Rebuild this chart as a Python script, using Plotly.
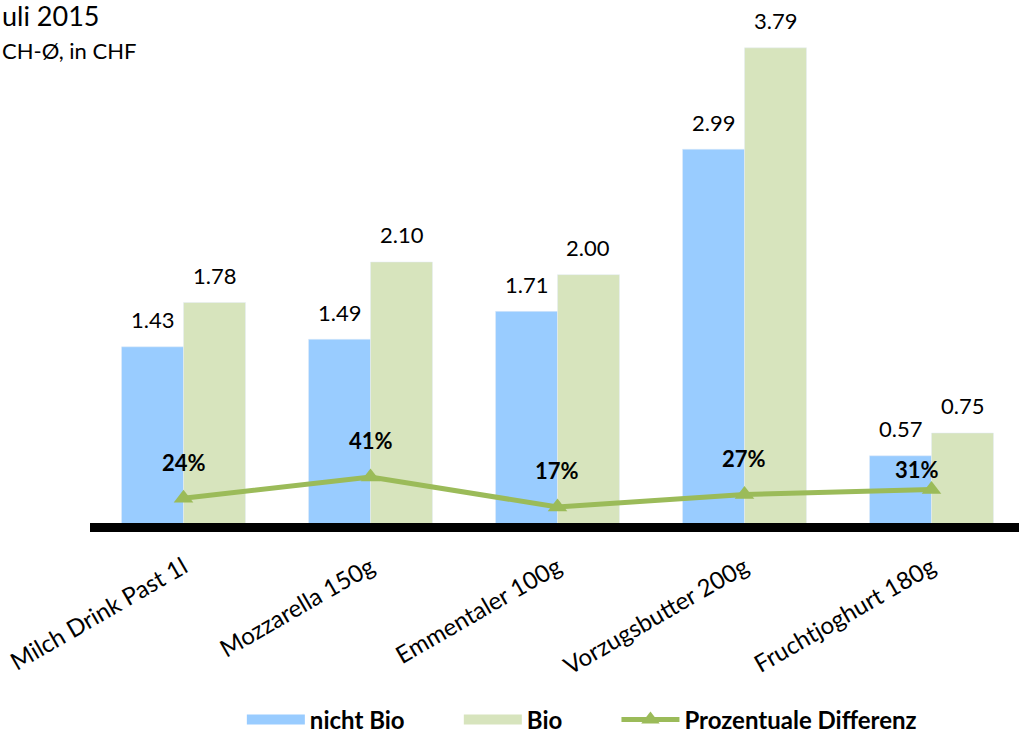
import plotly.graph_objects as go

categories = ["Milch Drink Past 1l", "Mozzarella 150g", "Emmentaler 100g", "Vorzugsbutter 200g", "Fruchtjoghurt 180g"]
nicht_bio = [1.43, 1.49, 1.71, 2.99, 0.57]
bio = [1.78, 2.10, 2.00, 3.79, 0.75]
diff_pct = [0.24, 0.41, 0.17, 0.27, 0.31]

FONT = "Lato, Open Sans, sans-serif"
BLUE = "#99CCFF"
GREEN = "#D7E4BD"
LINE = "#9BBB59"
NB = "\u00a0"

fig = go.Figure()
fig.add_trace(go.Bar(name="nicht Bio", x=categories, y=nicht_bio, marker_color=BLUE, hoverinfo="y", showlegend=False))
fig.add_trace(go.Bar(name="Bio", x=categories, y=bio, marker_color=GREEN, hoverinfo="y", showlegend=False))
fig.add_trace(go.Scatter(name="Prozentuale Differenz", x=categories, y=diff_pct, yaxis="y2",
                         mode="lines+markers", line=dict(color=LINE, width=5),
                         marker=dict(symbol="triangle-up", size=17, color=LINE), showlegend=False))
# legend entries with wide swatches
fig.add_trace(go.Scatter(name="<b>nicht Bio</b>" + NB * 8, x=[None], y=[None], mode="lines",
                         line=dict(color=BLUE, width=13), legendrank=1))
fig.add_trace(go.Scatter(name="<b>Bio</b>" + NB * 8, x=[None], y=[None], mode="lines",
                         line=dict(color=GREEN, width=13), legendrank=2))
fig.add_trace(go.Scatter(name="<b>Prozentuale Differenz</b>", x=[None], y=[None], yaxis="y2",
                         mode="lines+markers", line=dict(color=LINE, width=5),
                         marker=dict(symbol="triangle-up", size=17, color=LINE), legendrank=3))

annotations = []
for c, v in zip(categories, nicht_bio):
    annotations.append(dict(x=c, y=v, text=f"{v:.2f}", showarrow=False, xshift=-31, yshift=27,
                            font=dict(size=22, color="black", family=FONT)))
for c, v in zip(categories, bio):
    annotations.append(dict(x=c, y=v, text=f"{v:.2f}", showarrow=False, xshift=31, yshift=27,
                            font=dict(size=22, color="black", family=FONT)))
label_offsets = [(0, 36), (0, 37), (0, 37), (0, 36), (-14, 20)]
for c, v, (dx, dy) in zip(categories, diff_pct, label_offsets):
    annotations.append(dict(x=c, y=v, yref="y2", text=f"<b>{round(v*100)}%</b>", showarrow=False,
                            xshift=dx, yshift=dy, font=dict(size=22, color="black", family=FONT)))

annotations.append(dict(xref="paper", yref="paper", x=-0.0969, y=1.0497, xanchor="left", yanchor="middle",
                        text="uli 2015", showarrow=False, font=dict(size=27, color="black", family=FONT)))
annotations.append(dict(xref="paper", yref="paper", x=-0.0969, y=0.979, xanchor="left", yanchor="middle",
                        text="CH-Ø, in CHF", showarrow=False, font=dict(size=22, color="black", family=FONT)))

fig.update_layout(
    width=1019, height=738,
    margin=dict(l=90, r=0, t=40, b=215),
    paper_bgcolor="white", plot_bgcolor="white",
    barmode="group", bargap=0.337, bargroupgap=0,
    font=dict(family=FONT, color="black"),
    xaxis=dict(range=[-0.5, 4.468], tickangle=-30, tickfont=dict(size=24, family=FONT),
               showline=True, linecolor="black", linewidth=9, ticks="", showgrid=False,
               automargin=False, ticklabelstandoff=12),
    yaxis=dict(range=[0.0395, 3.852], visible=False, showgrid=False, automargin=False),
    yaxis2=dict(range=[0.042, 3.906], overlaying="y", side="right", visible=False, showgrid=False,
                automargin=False),
    legend=dict(orientation="h", xref="container", yref="container", x=0.571, xanchor="center",
                y=0.0244, yanchor="middle",
                font=dict(size=24, family=FONT), itemwidth=58, traceorder="normal"),
    annotations=annotations,
    showlegend=True,
)

fig.write_html("out.html", config={"displayModeBar": False},
               post_script="document.body.style.margin='0';document.body.style.overflow='hidden';")
